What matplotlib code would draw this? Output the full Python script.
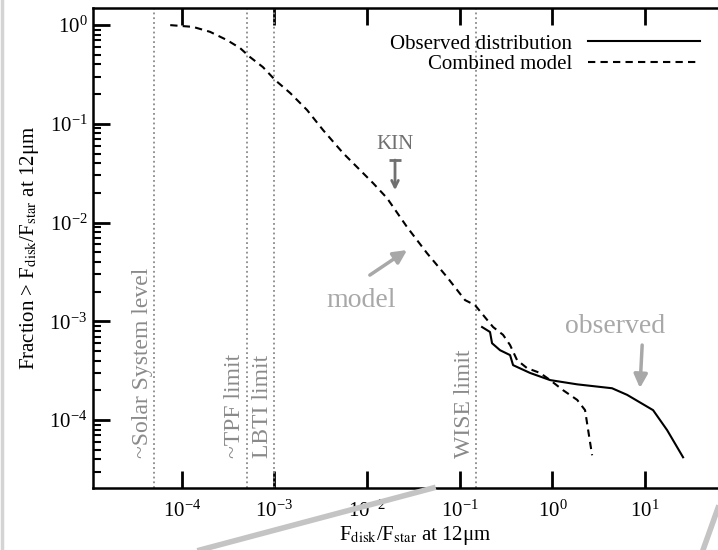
import matplotlib
matplotlib.use('Agg')
import matplotlib.pyplot as plt
from matplotlib.lines import Line2D

plt.rcParams['font.family'] = ['Liberation Serif', 'DejaVu Serif']
plt.rcParams['mathtext.fontset'] = 'stix'

# combined model (dashed)
model_x = [7.5e-5, 1.32e-4, 2.02e-4, 3.08e-4, 4.26e-4, 5.46e-4, 7.5e-4, 1.02e-3,
           1.48e-3, 2.25e-3, 3.35e-3, 5.5e-3, 0.0116, 0.0164, 0.027, 0.0443,
           0.073, 0.114, 0.146, 0.187, 0.229, 0.293, 0.349, 0.415, 0.532,
           0.736, 0.944, 1.30, 1.85, 2.25, 2.43, 2.68]
model_y = [1.0, 0.96, 0.855, 0.705, 0.585, 0.474, 0.376, 0.277,
           0.205, 0.138, 0.0864, 0.0506, 0.0251, 0.0177, 0.009, 0.0049,
           0.0028, 1.64e-3, 1.46e-3, 1.1e-3, 8.75e-4, 7.3e-4, 5.75e-4, 4.05e-4, 3.36e-4,
           3.0e-4, 2.54e-4, 2.01e-4, 1.6e-4, 1.26e-4, 7.9e-5, 4.4e-5]

# observed distribution (solid)
obs_x = [0.174, 0.212, 0.223, 0.272, 0.349, 0.376, 0.574, 0.944, 1.85, 4.4,
         6.4, 12.2, 17.3, 25.7]
obs_y = [8.75e-4, 7.8e-4, 6.0e-4, 5.1e-4, 4.55e-4, 3.6e-4, 3.0e-4, 2.54e-4,
         2.3e-4, 2.1e-4, 1.8e-4, 1.26e-4, 7.9e-5, 4.2e-5]

# detection limits
limit_x = [5e-5, 5e-4, 1e-3, 0.15]
limit_names = ['~Solar System level', '~TPF limit', 'LBTI limit', 'WISE limit']

# KIN upper limit
kin_x = 0.02
kin_y = 0.043
kin_tip = 0.0213

x_ticks = [1e-4, 1e-3, 1e-2, 1e-1, 1e0, 1e1]

fig = plt.figure(figsize=(7.18, 5.5), dpi=100)
ax = fig.add_axes([0.1295, 0.1127, 0.898, 0.8727])

for lx, name in zip(limit_x, limit_names):
    ax.axvline(lx, color='#8a8a8a', ls=':', lw=1.3)
    ax.text(lx * 0.97, 4.1e-5, name, rotation=90, ha='right', va='bottom',
            color='#8a8a8a', fontsize=17)

ax.plot(obs_x, obs_y, color='black', lw=1.5, label='Observed distribution')
ax.plot(model_x, model_y, color='black', lw=1.5, dashes=(3.5, 2.5),
        label='Combined model')

# KIN marker
ax.plot([kin_x], [kin_y], marker='_', ms=9, mew=2, color='#707070')
ax.annotate('', xy=(kin_x, kin_tip), xytext=(kin_x, kin_y),
            arrowprops=dict(arrowstyle='->', color='#707070', lw=2, mutation_scale=12,
                            shrinkA=0, shrinkB=0))
ax.text(kin_x, 0.05, 'KIN', ha='center', va='bottom', color='#707070', fontsize=15)

# model / observed notes
ax.text(8.6e-3, 1.39e-3, 'model', ha='center', va='baseline', color='#a8a8a8', fontsize=20)
ax.annotate('', xy=(0.027, 5.27e-3), xytext=(0.0107, 2.94e-3),
            arrowprops=dict(arrowstyle='-|>', color='#a8a8a8', lw=2.5, mutation_scale=20,
                            shrinkA=0, shrinkB=0))
ax.text(4.74, 7.6e-4, 'observed', ha='center', va='baseline', color='#a8a8a8', fontsize=20)
ax.annotate('', xy=(8.8, 2.11e-4), xytext=(9.3, 5.75e-4),
            arrowprops=dict(arrowstyle='-|>', color='#a8a8a8', lw=2.5, mutation_scale=20,
                            shrinkA=0, shrinkB=0))

ax.set_xscale('log')
ax.set_yscale('log')
ax.set_xlim(1.1e-5, 100)
ax.set_ylim(2.05e-5, 1.49)
ax.set_xticks(x_ticks)

ax.set_xlabel('F$_{\\rm disk}$/F$_{\\rm star}$ at 12μm', fontsize=15, labelpad=2)
ax.set_ylabel('Fraction > F$_{\\rm disk}$/F$_{\\rm star}$ at 12μm', fontsize=15, labelpad=6)

ax.tick_params(which='major', direction='in', length=12, width=2, labelsize=15,
               top=True, right=True)
ax.tick_params(axis='x', which='major', pad=9)
ax.tick_params(axis='y', which='major', pad=4)
ax.tick_params(axis='y', which='minor', direction='in', length=6, width=1.5, right=True)
ax.tick_params(axis='x', which='minor', length=0)
for s in ax.spines.values():
    s.set_linewidth(1.8)

ax.legend(loc='upper right', bbox_to_anchor=(700 / 718, 1 - 34 / 550),
          bbox_transform=fig.transFigure, frameon=False, markerfirst=False,
          fontsize=15, handlelength=5.4, handletextpad=0.75, labelspacing=0.05,
          borderpad=0, borderaxespad=0)

# grey slide strokes around the figure
fig.add_artist(Line2D([200 / 718, 433 / 718], [0, 1 - 488 / 550], color='#c4c4c4', lw=4))
fig.add_artist(Line2D([703 / 718, 1.0], [0, 1 - 508 / 550], color='#c4c4c4', lw=4))
fig.add_artist(Line2D([2 / 718, 2 / 718], [0, 1], color='#d4d4d4', lw=2.5))

fig.savefig('out.png', dpi=100)
